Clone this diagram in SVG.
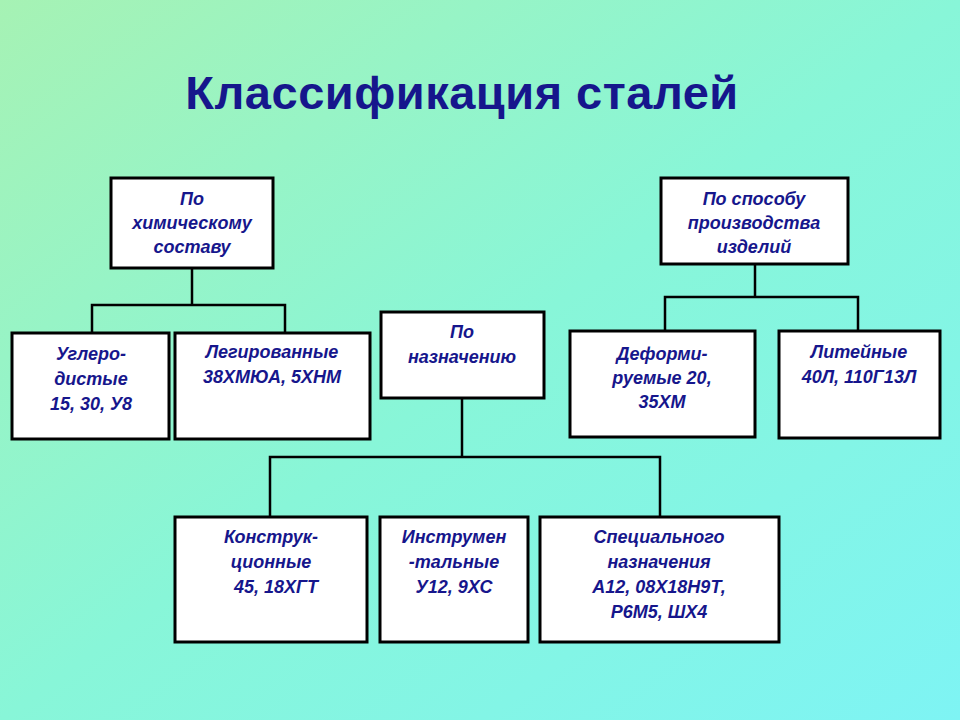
<svg xmlns="http://www.w3.org/2000/svg" width="960" height="720" viewBox="0 0 960 720">
<defs>
<linearGradient id="bg" x1="0" y1="0" x2="1" y2="1">
<stop offset="0" stop-color="#a6f2b4"/>
<stop offset="0.5" stop-color="#88f6d8"/>
<stop offset="1" stop-color="#7ef4f4"/>
</linearGradient>
<style>
.b{fill:#fff;stroke:#000;stroke-width:3}
.t{font-family:"Liberation Sans",Arial,sans-serif;font-weight:bold;font-style:italic;font-size:18px;fill:#16168c;text-anchor:middle}
.c{fill:none;stroke:#000;stroke-width:2.5}
</style>
</defs>
<rect width="960" height="720" fill="url(#bg)"/>
<text x="462" y="109" font-family="Liberation Sans,Arial,sans-serif" font-weight="bold" font-size="47" letter-spacing="0.5" fill="#16168c" text-anchor="middle">Классификация сталей</text>
<g id="connectors">
<polyline class="c" points="192,268 192,305"/>
<polyline class="c" points="92,333 92,305 285,305 285,333"/>
<polyline class="c" points="755,264 755,297"/>
<polyline class="c" points="665,331 665,297 858,297 858,331"/>
<polyline class="c" points="462,398 462,457"/>
<polyline class="c" points="270,517 270,457 660,457 660,517"/>
</g>
<g id="chem"><rect class="b" x="111" y="178" width="162" height="90"/>
<text class="t" x="192" y="205">По</text><text class="t" x="192" y="229">химическому</text><text class="t" x="192" y="253">составу</text></g>
<g id="prod"><rect class="b" x="661" y="178" width="187" height="86"/>
<text class="t" x="754" y="205">По способу</text><text class="t" x="754" y="229">производства</text><text class="t" x="754" y="253">изделий</text></g>
<g id="carbon"><rect class="b" x="12" y="333" width="157" height="106"/>
<text class="t" x="91" y="360">Углеро-</text><text class="t" x="91" y="385">дистые</text><text class="t" x="91" y="410">15, 30, У8</text></g>
<g id="alloy"><rect class="b" x="175" y="333" width="195" height="106"/>
<text class="t" x="272" y="358">Легированные</text><text class="t" x="272" y="383">38ХМЮА, 5ХНМ</text></g>
<g id="purpose"><rect class="b" x="381" y="312" width="163" height="86"/>
<text class="t" x="462" y="338">По</text><text class="t" x="462" y="363">назначению</text></g>
<g id="deform"><rect class="b" x="570" y="331" width="185" height="106"/>
<text class="t" x="662" y="360">Деформи-</text><text class="t" x="662" y="384">руемые 20,</text><text class="t" x="662" y="408">35ХМ</text></g>
<g id="cast"><rect class="b" x="779" y="331" width="161" height="107"/>
<text class="t" x="859" y="358">Литейные</text><text class="t" x="859" y="383">40Л, 110Г13Л</text></g>
<g id="constr"><rect class="b" x="175" y="517" width="192" height="125"/>
<text class="t" x="271" y="543">Конструк-</text><text class="t" x="271" y="568">ционные</text><text class="t" x="276" y="593">45, 18ХГТ</text></g>
<g id="tool"><rect class="b" x="380" y="517" width="148" height="125"/>
<text class="t" x="454" y="543">Инструмен</text><text class="t" x="454" y="568">-тальные</text><text class="t" x="454" y="593">У12, 9ХС</text></g>
<g id="special"><rect class="b" x="540" y="517" width="239" height="125"/>
<text class="t" x="659" y="543">Специального</text><text class="t" x="659" y="568">назначения</text><text class="t" x="659" y="593">А12, 08Х18Н9Т,</text><text class="t" x="659" y="618">Р6М5, ШХ4</text></g>
</svg>
